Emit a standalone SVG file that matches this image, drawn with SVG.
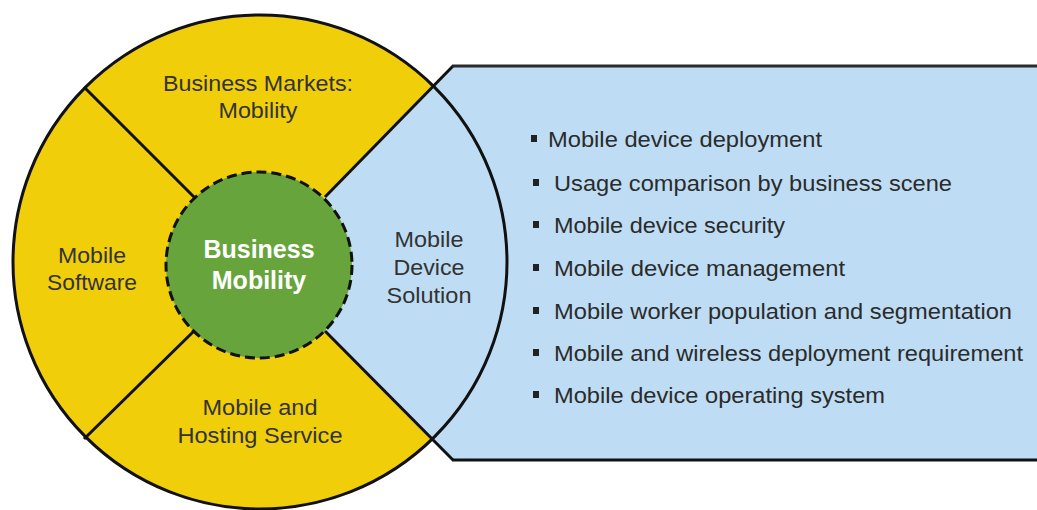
<svg xmlns="http://www.w3.org/2000/svg" width="1037" height="510" viewBox="0 0 1037 510">
<style>
.lbl{font-family:"Liberation Sans",Arial,sans-serif;font-size:22px;fill:#333;text-anchor:middle}
.core{font-family:"Liberation Sans",Arial,sans-serif;font-size:25px;font-weight:bold;fill:#fff;text-anchor:middle}
.item{font-family:"Liberation Sans",Arial,sans-serif;font-size:22px;fill:#2b2b2b}
.bullet{fill:#222}
.edge{stroke:#111;stroke-width:3;fill:none}
</style>
<rect width="1037" height="510" fill="#fff"/>
<g id="ring">
<circle cx="260" cy="262" r="247" fill="#F0CE0A"/>
<polygon points="259,265 453,66 1040,66 1040,460 453,460" fill="#BEDDF4"/>
<circle cx="260" cy="262" r="247" class="edge"/>
</g>
<g id="connectors">
<line x1="84" y1="87" x2="194" y2="197" class="edge"/>
<line x1="84" y1="439" x2="194" y2="331" class="edge"/>
<line x1="453" y1="66" x2="325" y2="197" class="edge"/>
<line x1="453" y1="460" x2="325" y2="331" class="edge"/>
<line x1="452" y1="66" x2="1040" y2="66" stroke="#2a2a2a" stroke-width="3"/>
<line x1="452" y1="460" x2="1040" y2="460" stroke="#111" stroke-width="3"/>
</g>
<g id="markets">
<text class="lbl" x="258" y="91" textLength="190" lengthAdjust="spacingAndGlyphs">Business Markets:</text>
<text class="lbl" x="258" y="118" textLength="79" lengthAdjust="spacingAndGlyphs">Mobility</text>
</g>
<g id="software">
<text class="lbl" x="92" y="263" textLength="68" lengthAdjust="spacingAndGlyphs">Mobile</text>
<text class="lbl" x="92" y="290" textLength="90" lengthAdjust="spacingAndGlyphs">Software</text>
</g>
<g id="hosting">
<text class="lbl" x="260" y="415" textLength="115" lengthAdjust="spacingAndGlyphs">Mobile and</text>
<text class="lbl" x="260" y="443" textLength="165" lengthAdjust="spacingAndGlyphs">Hosting Service</text>
</g>
<g id="device">
<text class="lbl" x="429" y="247" textLength="69" lengthAdjust="spacingAndGlyphs">Mobile</text>
<text class="lbl" x="429" y="275" textLength="71" lengthAdjust="spacingAndGlyphs">Device</text>
<text class="lbl" x="429" y="303" textLength="85" lengthAdjust="spacingAndGlyphs">Solution</text>
</g>
<g id="core">
<circle cx="259" cy="265" r="93" fill="#67A43B" stroke="#111" stroke-width="3" stroke-dasharray="10,5"/>
<text class="core" x="259" y="258">Business</text>
<text class="core" x="259" y="289">Mobility</text>
</g>
<g id="list">
<rect class="bullet" x="531" y="135" width="6" height="7"/>
<text class="item" x="548" y="147" textLength="274" lengthAdjust="spacingAndGlyphs">Mobile device deployment</text>
<rect class="bullet" x="533" y="179" width="6" height="7"/>
<text class="item" x="554" y="191" textLength="398" lengthAdjust="spacingAndGlyphs">Usage comparison by business scene</text>
<rect class="bullet" x="533" y="221" width="6" height="7"/>
<text class="item" x="554" y="233" textLength="231" lengthAdjust="spacingAndGlyphs">Mobile device security</text>
<rect class="bullet" x="533" y="264" width="6" height="7"/>
<text class="item" x="554" y="276" textLength="291" lengthAdjust="spacingAndGlyphs">Mobile device management</text>
<rect class="bullet" x="533" y="307" width="6" height="7"/>
<text class="item" x="554" y="319" textLength="458" lengthAdjust="spacingAndGlyphs">Mobile worker population and segmentation</text>
<rect class="bullet" x="533" y="349" width="6" height="7"/>
<text class="item" x="554" y="361" textLength="469" lengthAdjust="spacingAndGlyphs">Mobile and wireless deployment requirement</text>
<rect class="bullet" x="533" y="391" width="6" height="7"/>
<text class="item" x="554" y="403" textLength="331" lengthAdjust="spacingAndGlyphs">Mobile device operating system</text>
</g>
</svg>
